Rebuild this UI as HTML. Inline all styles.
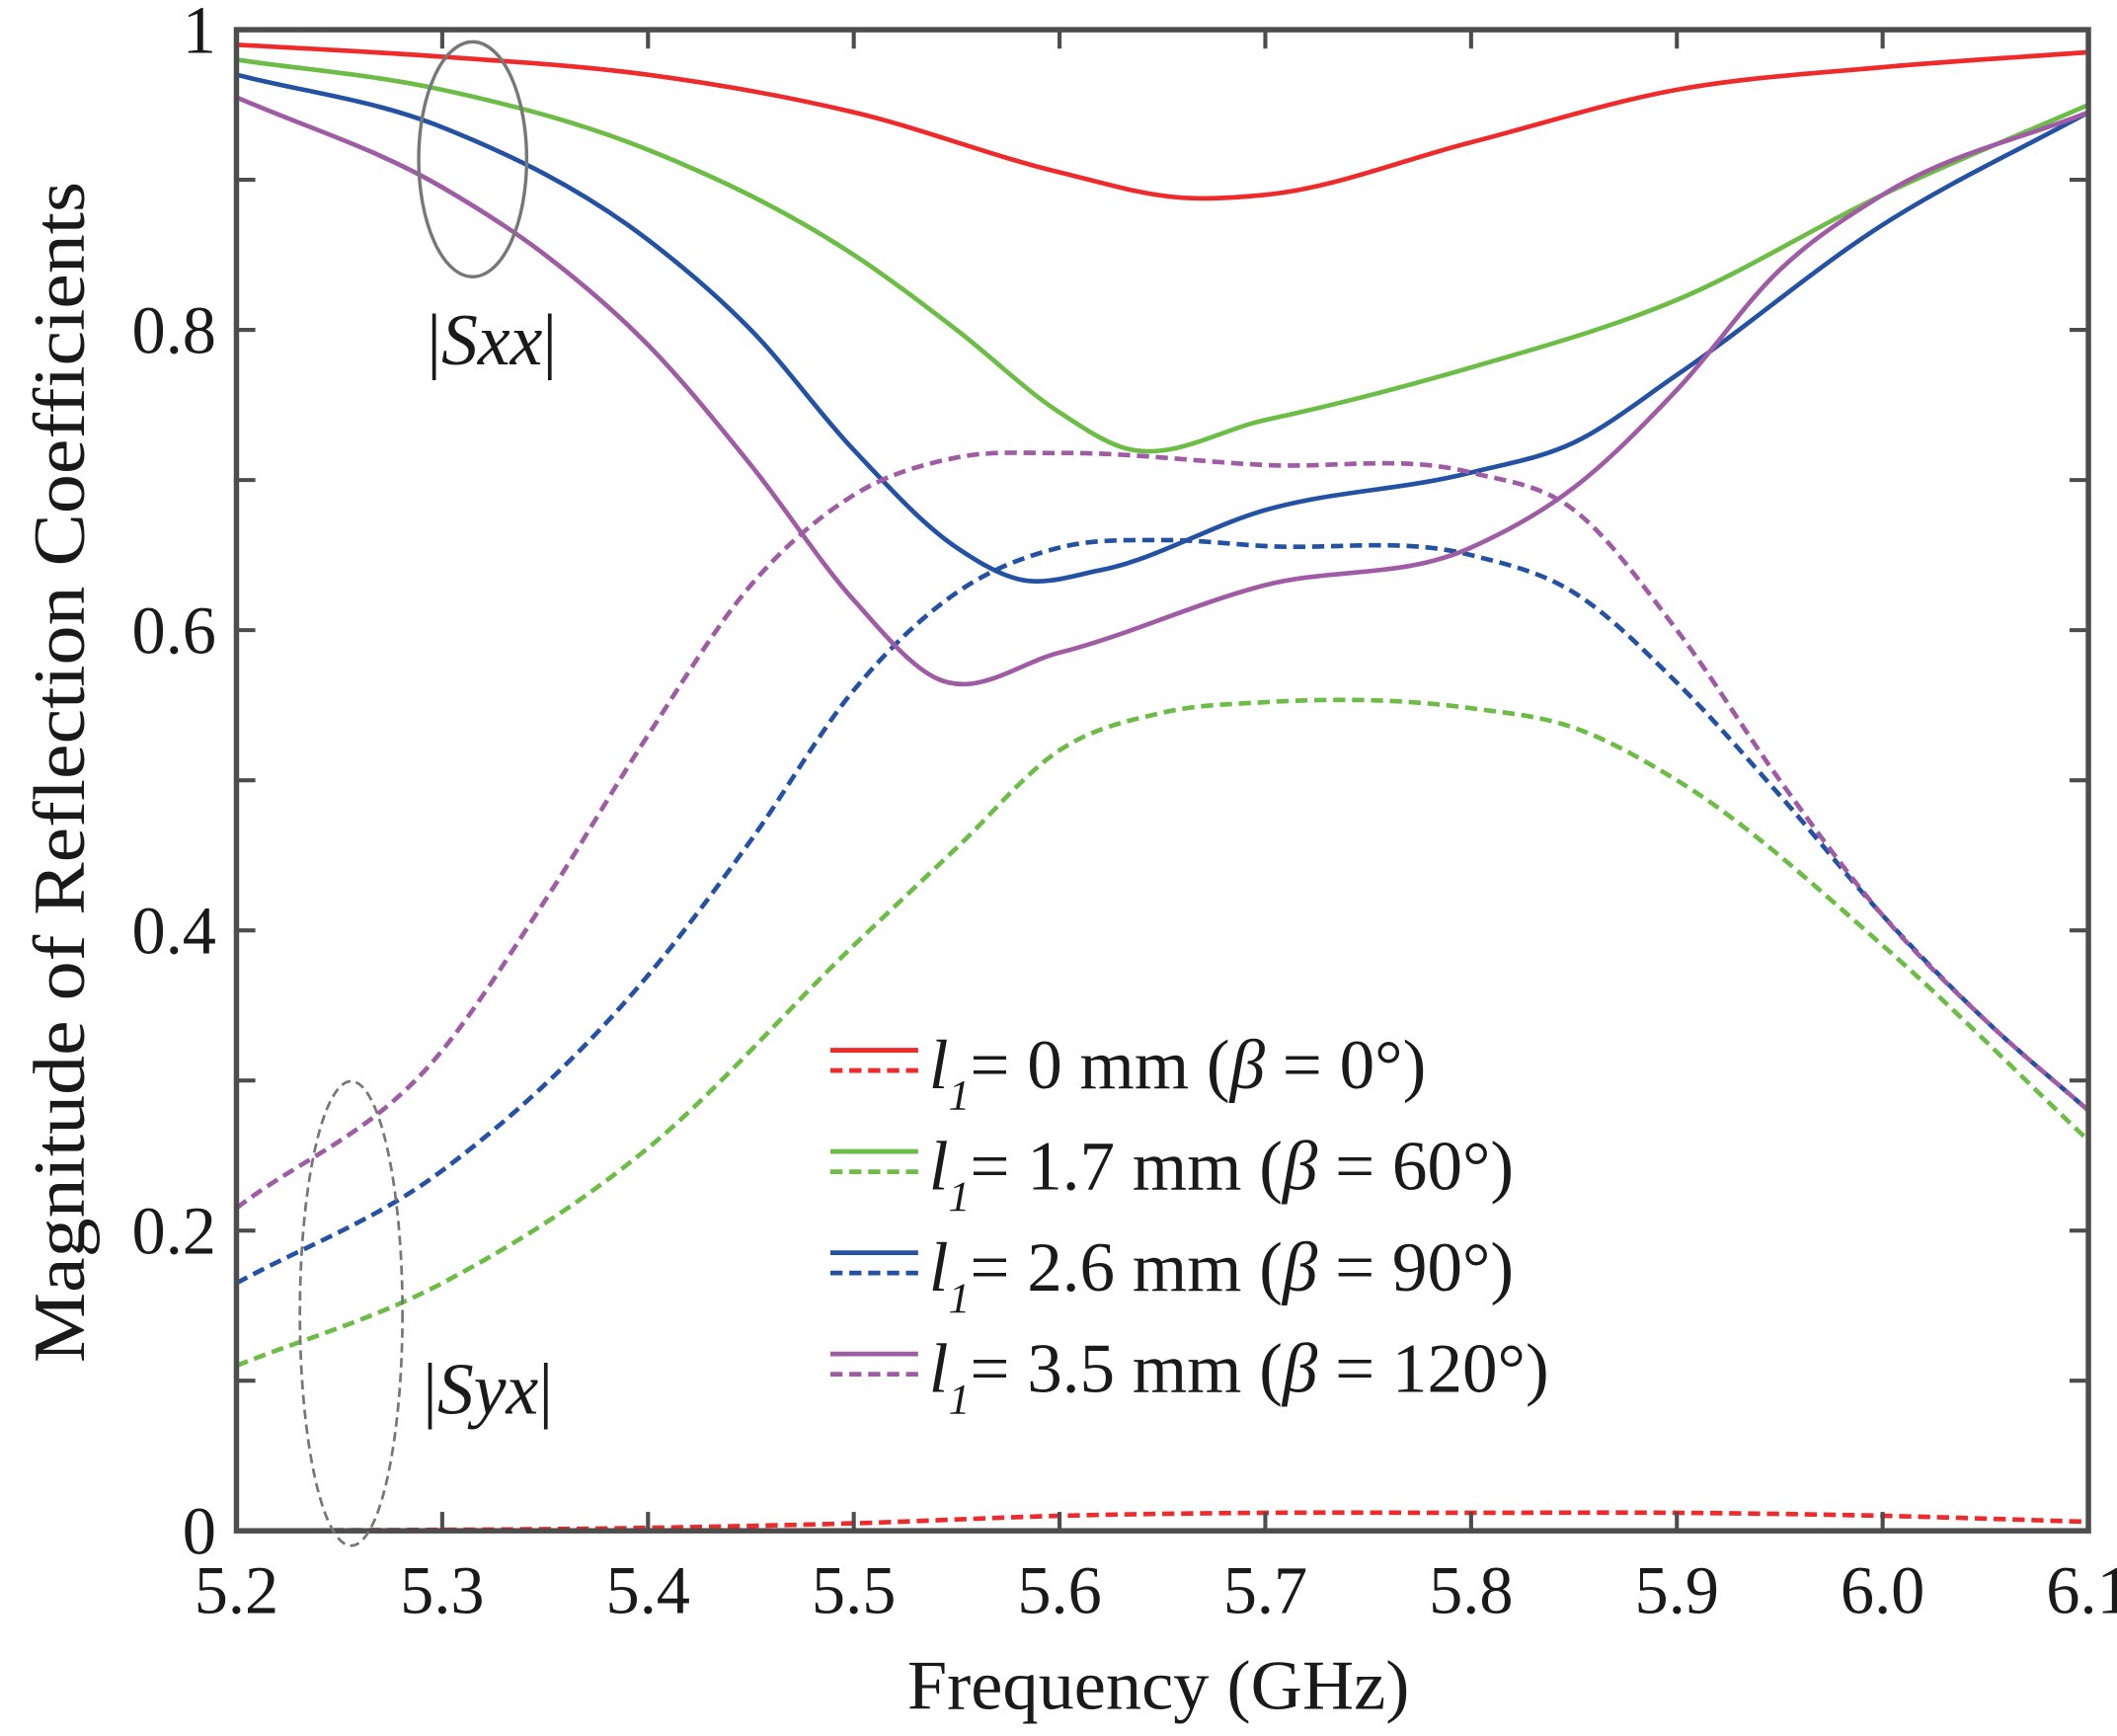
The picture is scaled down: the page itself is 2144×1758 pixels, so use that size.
<!DOCTYPE html>
<html><head><meta charset="utf-8">
<style>html,body{margin:0;padding:0;background:#fff}svg{display:block}
text{font-family:"Liberation Serif",serif;fill:#1a1a1a}</style></head>
<body>
<svg id="chart" width="2144" height="1758" viewBox="0 0 1568 1286" xmlns="http://www.w3.org/2000/svg">
<g id="marks"></g>
<g id="axes"></g>
<g>
 <ellipse cx="350" cy="118" rx="40" ry="87" fill="none" stroke="#777" stroke-width="2.5"/>
 <ellipse cx="260" cy="973" rx="38" ry="172" fill="none" stroke="#777" stroke-width="2" stroke-dasharray="7,4"/>
 <text x="316" y="270" font-size="54">|<tspan font-style="italic">Sxx</tspan>|</text>
 <text x="313" y="1047" font-size="54">|<tspan font-style="italic">Syx</tspan>|</text>
</g>
<g id="legend"></g>
<text x="858" y="1266" font-size="52" text-anchor="middle" textLength="372" lengthAdjust="spacingAndGlyphs">Frequency (GHz)</text>
<text transform="translate(62,572) rotate(-90)" font-size="54" text-anchor="middle" textLength="875" lengthAdjust="spacingAndGlyphs">Magnitude of Reflection Coefficients</text>
</svg>
<script>
const xTicks=[5.2,5.3,5.4,5.5,5.6,5.7,5.8,5.9,6.0,6.1];
const xTickLabels=["5.2","5.3","5.4","5.5","5.6","5.7","5.8","5.9","6.0","6.1"];
const yTicks=[0,0.2,0.4,0.6,0.8,1];
const yTickLabels=["0","0.2","0.4","0.6","0.8","1"];
const seriesNames=["l1 = 0 mm","l1 = 1.7 mm","l1 = 2.6 mm","l1 = 3.5 mm"];
const redSxxF=[5.2,5.3,5.4,5.5,5.6,5.66,5.7,5.8,5.9,6.0,6.1];
const redSxx=[0.99,0.982,0.97,0.945,0.905,0.888,0.89,0.925,0.96,0.975,0.985];
const greenSxxF=[5.2,5.3,5.4,5.5,5.55,5.6,5.63,5.7,5.8,5.9,6.0,6.1];
const greenSxx=[0.98,0.96,0.92,0.85,0.80,0.745,0.722,0.74,0.775,0.82,0.89,0.95];
const blueSxxF=[5.2,5.3,5.4,5.45,5.5,5.55,5.58,5.62,5.7,5.8,5.85,5.9,6.0,6.1];
const blueSxx=[0.97,0.935,0.86,0.80,0.72,0.655,0.634,0.64,0.68,0.705,0.725,0.77,0.87,0.945];
const purpleSxxF=[5.2,5.3,5.35,5.4,5.45,5.5,5.54,5.6,5.7,5.8,5.85,5.9,5.95,6.0,6.1];
const purpleSxx=[0.955,0.895,0.85,0.79,0.71,0.62,0.568,0.585,0.63,0.655,0.695,0.76,0.84,0.89,0.945];
const redSyxF=[5.2,5.4,5.5,5.6,5.7,5.8,5.9,6.0,6.1];
const redSyx=[0,0.002,0.005,0.01,0.012,0.012,0.012,0.01,0.006];
const greenSyxF=[5.2,5.3,5.4,5.5,5.55,5.6,5.65,5.7,5.8,5.85,5.9,6.0,6.1];
const greenSyx=[0.11,0.165,0.255,0.39,0.455,0.52,0.545,0.552,0.548,0.535,0.5,0.39,0.26];
const blueSyxF=[5.2,5.3,5.4,5.45,5.5,5.55,5.6,5.65,5.7,5.8,5.85,5.9,5.95,6.0,6.05,6.1];
const blueSyx=[0.165,0.24,0.37,0.46,0.56,0.625,0.655,0.66,0.656,0.65,0.625,0.565,0.49,0.41,0.34,0.28];
const purpleSyxF=[5.2,5.3,5.35,5.4,5.45,5.5,5.55,5.6,5.7,5.8,5.85,5.9,5.95,6.0,6.05,6.1];
const purpleSyx=[0.215,0.32,0.42,0.53,0.63,0.69,0.715,0.718,0.71,0.705,0.68,0.6,0.5,0.41,0.34,0.28];

const L=175,R=1547,T=22,B=1134;
function xs(f){return L+(f-5.2)/0.9*(R-L);}
function ys(v){return B-v*(B-T);}
const NS="http://www.w3.org/2000/svg";
function mk(tag,attrs,parent){const e=document.createElementNS(NS,tag);for(const k in attrs)e.setAttribute(k,attrs[k]);parent.appendChild(e);return e;}
function pathD(fs,vs){
 const n=fs.length,m=[];
 for(let i=0;i<n;i++){
  if(i===0)m.push((vs[1]-vs[0])/(fs[1]-fs[0]));
  else if(i===n-1)m.push((vs[n-1]-vs[n-2])/(fs[n-1]-fs[n-2]));
  else{const d1=(vs[i]-vs[i-1])/(fs[i]-fs[i-1]),d2=(vs[i+1]-vs[i])/(fs[i+1]-fs[i]);
   const h1=fs[i]-fs[i-1],h2=fs[i+1]-fs[i];m.push((d1*h2+d2*h1)/(h1+h2));}
 }
 let d="M"+xs(fs[0])+","+ys(vs[0]);
 for(let i=0;i<n-1;i++){const h=fs[i+1]-fs[i];
  const c1f=fs[i]+h/3,c1v=vs[i]+m[i]*h/3,c2f=fs[i+1]-h/3,c2v=vs[i+1]-m[i+1]*h/3;
  d+=" C"+xs(c1f)+","+ys(c1v)+" "+xs(c2f)+","+ys(c2v)+" "+xs(fs[i+1])+","+ys(vs[i+1]);}
 return d;}
const marks=document.getElementById('marks');
const cols=["#ee2a2a","#6cbd45","#2351a3","#a05ba5"];
const solid=[[redSxxF,redSxx],[greenSxxF,greenSxx],[blueSxxF,blueSxx],[purpleSxxF,purpleSxx]];
const dash=[[redSyxF,redSyx],[greenSyxF,greenSyx],[blueSyxF,blueSyx],[purpleSyxF,purpleSyx]];
const keys=["red","green","blue","purple"];
for(let i=0;i<4;i++){
 const a=mk('path',{d:pathD(dash[i][0],dash[i][1]),fill:"none",stroke:cols[i],"stroke-width":3.4,"stroke-dasharray":"9,5"},marks);
 
 
 const b=mk('path',{d:pathD(solid[i][0],solid[i][1]),fill:"none",stroke:cols[i],"stroke-width":3.4},marks);
 
 
}
const axes=document.getElementById('axes');
const box=mk('rect',{x:L,y:T,width:R-L,height:B-T,fill:"none",stroke:"#4d4d4d","stroke-width":4},axes);


xTicks.forEach((f,i)=>{const x=xs(f);
 if(i>0&&i<xTicks.length-1){mk('line',{x1:x,y1:B,x2:x,y2:B-14,stroke:"#4d4d4d","stroke-width":3},axes);mk('line',{x1:x,y1:T,x2:x,y2:T+14,stroke:"#4d4d4d","stroke-width":3},axes);}
 const t=mk('text',{x:x,y:1195,"font-size":50,"text-anchor":"middle"},axes);t.textContent=xTickLabels[i];
 
 
});
for(let v=0.1;v<1;v+=0.1){const y=ys(v);
 mk('line',{x1:L,y1:y,x2:L+14,y2:y,stroke:"#4d4d4d","stroke-width":3},axes);
 mk('line',{x1:R,y1:y,x2:R-14,y2:y,stroke:"#4d4d4d","stroke-width":3},axes);}
yTicks.forEach((v,i)=>{const t=mk('text',{x:160,y:ys(v)+17,"font-size":50,"text-anchor":"end"},axes);t.textContent=yTickLabels[i];
 
 
});
const leg=document.getElementById('legend');
const lv=["0","1.7","2.6","3.5"],lb=["0","60","90","120"];
for(let i=0;i<4;i++){const y0=778+i*75;
 const g=mk('g',{},leg);
 
 
 mk('line',{x1:615,y1:y0,x2:680,y2:y0,stroke:cols[i],"stroke-width":3.5},g);
 mk('line',{x1:615,y1:y0+15,x2:680,y2:y0+15,stroke:cols[i],"stroke-width":3.5,"stroke-dasharray":"9,5"},g);
 const t=mk('text',{x:688,y:y0+28,"font-size":52},g);
 t.innerHTML='<tspan font-style="italic">l</tspan><tspan font-style="italic" font-size="32" dy="16">1</tspan><tspan dy="-16">= '+lv[i]+' mm (</tspan><tspan font-style="italic">β</tspan><tspan> = '+lb[i]+'°)</tspan>';
}
</script>
</body></html>
